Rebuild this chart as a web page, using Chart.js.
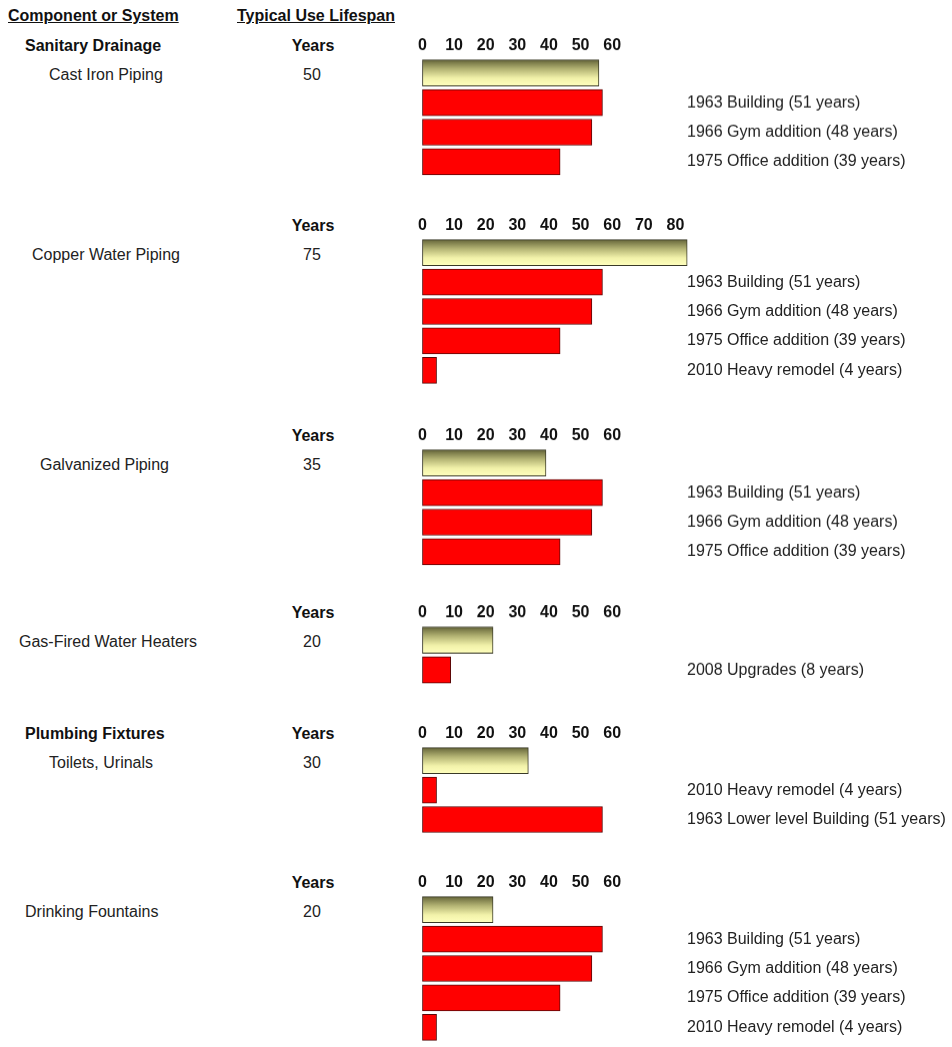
<!DOCTYPE html>
<html>
<head>
<meta charset="utf-8">
<title>Typical Use Lifespan</title>
<script src="https://cdn.jsdelivr.net/npm/chart.js@4.4.1/dist/chart.umd.min.js"></script>
<style>
  body { margin: 0; width: 952px; height: 1047px; overflow: hidden; background: #fff;
         font-family: "Liberation Sans", Arial, sans-serif; font-size: 16px; color: #222; }
  .txt { position: absolute; line-height: 20px; white-space: nowrap; }
  .head { font-weight: bold; text-decoration: underline; color: #111; }
  .bold { font-weight: bold; color: #111; }
  .mid { transform: translateX(-50%); }
  .box { position: absolute; left: 415px; width: 537px; }
</style>
</head>
<body>
<div class="txt head" style="left:8px;top:6px">Component or System</div>
<div class="txt head" style="left:237px;top:6px">Typical Use Lifespan</div>
<script>
const components = ["Cast Iron Piping", "Copper Water Piping", "Galvanized Piping",
  "Gas-Fired Water Heaters", "Toilets, Urinals", "Drinking Fountains"];
const systems = ["Sanitary Drainage", "", "", "", "Plumbing Fixtures", ""];
const typicalYears = [50, 75, 35, 20, 30, 20];

const buildingLabels = [
  ["1963 Building (51 years)", "1966 Gym addition (48 years)", "1975 Office addition (39 years)"],
  ["1963 Building (51 years)", "1966 Gym addition (48 years)", "1975 Office addition (39 years)", "2010 Heavy remodel (4 years)"],
  ["1963 Building (51 years)", "1966 Gym addition (48 years)", "1975 Office addition (39 years)"],
  ["2008 Upgrades (8 years)"],
  ["2010 Heavy remodel (4 years)", "1963 Lower level Building (51 years)"],
  ["1963 Building (51 years)", "1966 Gym addition (48 years)", "1975 Office addition (39 years)", "2010 Heavy remodel (4 years)"]
];
const buildingYears = [
  [51, 48, 39],
  [51, 48, 39, 4],
  [51, 48, 39],
  [8],
  [4, 51],
  [51, 48, 39, 4]
];

const ticks60 = [0, 10, 20, 30, 40, 50, 60];
const ticks80 = [0, 10, 20, 30, 40, 50, 60, 70, 80];
const blockTicks = [ticks60, ticks80, ticks60, ticks60, ticks60, ticks60];

// layout
const blockTops = [58, 238, 448, 625, 746, 895];   // plot-area top of each block
const nameLeft = [49, 32, 40, 19, 49, 25];
const AXIS_H = 24;
const ROW_H = 29.4;
const PLOT_W = 255;
const PX_PER_YEAR = 3.55;
const PX_PER_TICK = 3.18;

function addText(text, cls, left, centerY) {
  const d = document.createElement("div");
  d.className = "txt " + cls;
  d.textContent = text;
  d.style.left = left + "px";
  d.style.top = (centerY - 10) + "px";
  document.body.appendChild(d);
}

function barFill(c) {
  if (c.dataIndex > 0) return "#ff0000";
  const chart = c.chart;
  const y = chart.scales.y;
  if (!chart.chartArea || !y) return "#e6e6a0";
  const mid = y.getPixelForValue(0);
  const g = chart.ctx.createLinearGradient(0, mid - 13, 0, mid + 13);
  g.addColorStop(0, "#66663a");
  g.addColorStop(0.35, "#b4b474");
  g.addColorStop(0.7, "#f2f2aa");
  g.addColorStop(1, "#ffffbe");
  return g;
}

function addBlock(i) {
  const rows = ["", ...buildingLabels[i]];
  const values = [typicalYears[i], ...buildingYears[i]];
  const top = blockTops[i];

  if (systems[i]) addText(systems[i], "bold", 25, top - 12.5);
  addText("Years", "bold mid", 313, top - 12.5);
  addText(components[i], "", nameLeft[i], top + 17);
  addText(String(typicalYears[i]), "mid", 312, top + 17);

  const box = document.createElement("div");
  box.className = "box";
  box.style.top = (top - AXIS_H) + "px";
  box.style.height = (AXIS_H + rows.length * ROW_H) + "px";
  const canvas = document.createElement("canvas");
  box.appendChild(canvas);
  document.body.appendChild(box);

  new Chart(canvas, {
    type: "bar",
    data: {
      labels: rows,
      datasets: [{
        data: values,
        backgroundColor: barFill,
        borderColor: (c) => (c.dataIndex === 0 ? "#3a3a28" : "#5a0808"),
        borderWidth: 1,
        borderSkipped: false,
        barThickness: 26,
        clip: false,
        xAxisID: "x",
        yAxisID: "y",
      }],
    },
    options: {
      indexAxis: "y",
      responsive: true,
      maintainAspectRatio: false,
      animation: false,
      layout: { padding: { left: 6, top: 0, right: 0, bottom: 0 } },
      plugins: { legend: { display: false }, tooltip: { enabled: false } },
      scales: {
        x: { type: "linear", display: false, min: 0, max: PLOT_W / PX_PER_YEAR },
        years: {
          type: "linear",
          axis: "x",
          position: "top",
          min: 0,
          max: PLOT_W / PX_PER_TICK,
          afterBuildTicks: (s) => { s.ticks = blockTicks[i].map((v) => ({ value: v })); },
          afterFit: (s) => { s.height = AXIS_H; },
          grid: { display: false, drawTicks: false },
          border: { display: false },
          ticks: {
            autoSkip: false,
            maxRotation: 0,
            padding: 3,
            color: "#111",
            font: { family: "Liberation Sans", size: 16, weight: "bold" },
          },
        },
        y: {
          position: "right",
          afterFit: (s) => {
            s.width = 276;
            s.paddingTop = 0;
            s.paddingBottom = 0;
          },
          grid: { display: false, drawTicks: false },
          border: { display: false },
          ticks: {
            padding: 11,
            color: "#222",
            font: { family: "Liberation Sans", size: 16 },
          },
        },
      },
    },
  });
}

components.forEach((_, i) => addBlock(i));
</script>
</body>
</html>
